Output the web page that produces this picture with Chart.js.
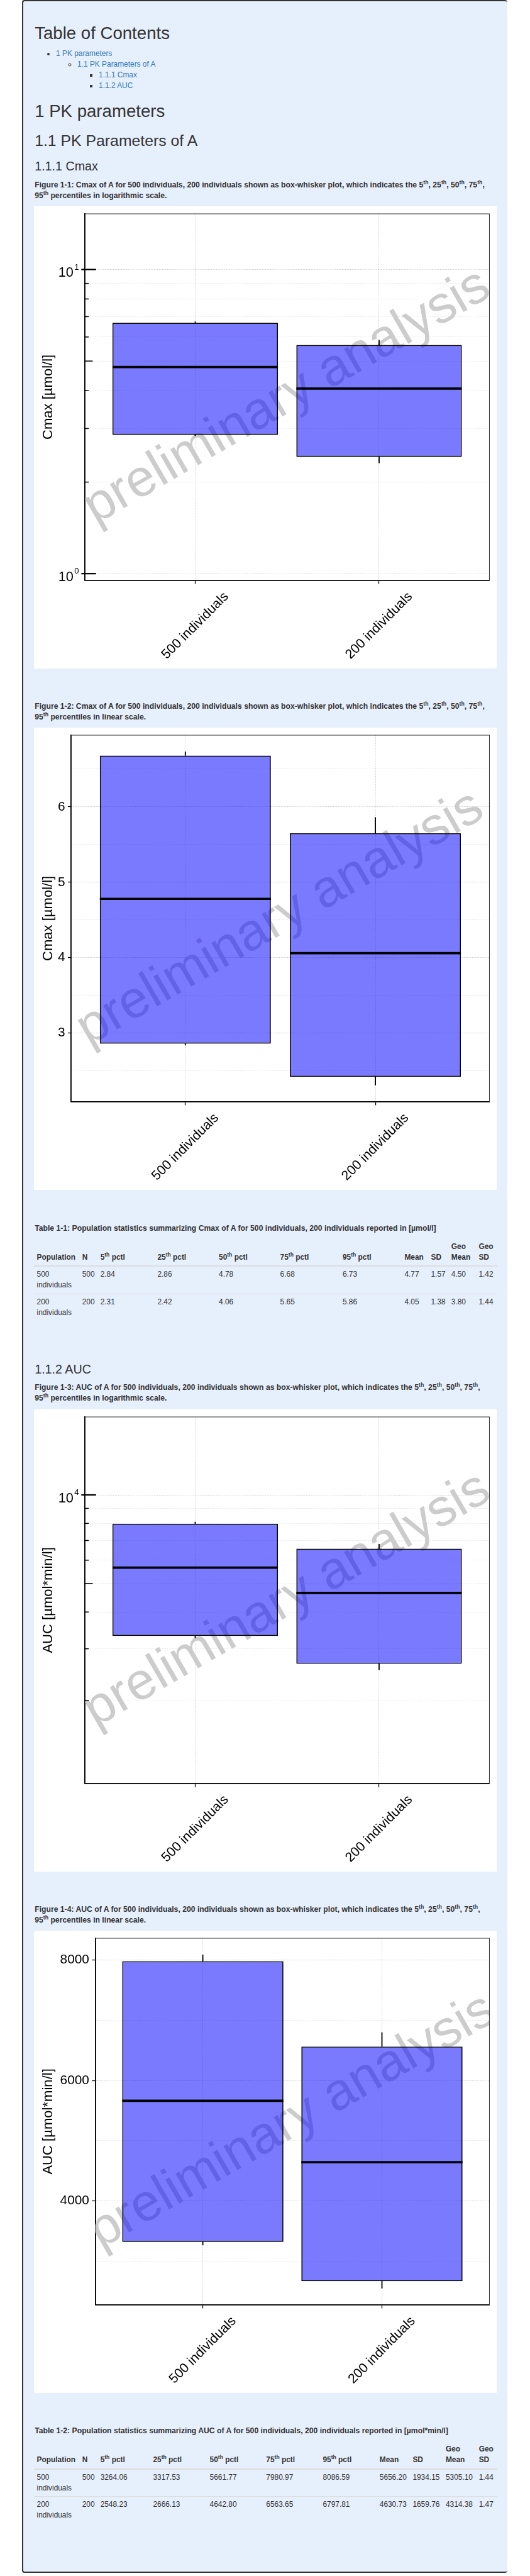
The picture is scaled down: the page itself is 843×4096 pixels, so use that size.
<!DOCTYPE html>
<html>
<head>
<meta charset="utf-8">
<title>PK parameters</title>
<script src="https://cdn.jsdelivr.net/npm/chart.js@4.4.1/dist/chart.umd.min.js"></script>
<style>
  html, body { margin: 0; padding: 0; background: #fff; }
  body { position: relative; width: 843px; height: 4096px; overflow: hidden;
         font-family: 'Liberation Sans', Arial, Helvetica, sans-serif; color: #333; }
  .frame { position: absolute; left: 35px; top: 0; width: 772px; height: 4091px; box-sizing: border-box;
           background: #e6effc; border: 2px solid #333; border-right: 0; border-radius: 4px; }
  .blk { position: absolute; left: 55.2px; margin: 0; white-space: nowrap; font-weight: 400; }
  h1.blk { font-size: 27.6px; line-height: 30.4px; }
  h2.blk { font-size: 24.8px; line-height: 27.3px; }
  h3.blk { font-size: 19.7px; line-height: 21.7px; }
  .cap { font-size: 12.2px; line-height: 17px; font-weight: 700; }
  sup { font-size: 72%; line-height: 0; }
  ul.toc { position: absolute; left: 0; top: 76.5px; margin: 0; padding-left: 89.1px;
           font-size: 11.9px; line-height: 17px; }
  ul.toc ul { margin: 0; padding-left: 34px; }
  ul.toc a { color: #337ab7; text-decoration: none; }
  .cbox { position: absolute; left: 54.3px; width: 736px; height: 735px; background: #fff; }
  .cbox canvas { display: block; }
  table.stats { position: absolute; left: 54.3px; width: 736.4px; table-layout: fixed;
                border-collapse: collapse; font-size: 11.9px; line-height: 17px; }
  table.stats th, table.stats td { padding: 4.25px; text-align: left; }
  table.stats th { vertical-align: bottom; border-bottom: 2px solid #ddd; font-weight: 700; }
  table.stats td { vertical-align: top; border-top: 1px solid #ddd; }
  table.stats td.num { white-space: nowrap; }
</style>
</head>
<body>
<div class="frame"></div>

<h1 class="blk" style="top:38px">Table of Contents</h1>
<ul class="toc">
  <li><a href="#pk">1 PK parameters</a>
    <ul>
      <li><a href="#pka">1.1 PK Parameters of A</a>
        <ul>
          <li><a href="#cmax">1.1.1 Cmax</a></li>
          <li><a href="#auc">1.1.2 AUC</a></li>
        </ul>
      </li>
    </ul>
  </li>
</ul>

<h1 class="blk" id="pk" style="top:162px">1 PK parameters</h1>
<h2 class="blk" id="pka" style="top:210.4px">1.1 PK Parameters of A</h2>
<h3 class="blk" id="cmax" style="top:254px">1.1.1 Cmax</h3>

<div class="blk cap" style="top:285.9px">Figure 1-1: Cmax of A for 500 individuals, 200 individuals shown as box-whisker plot, which indicates the 5<sup>th</sup>, 25<sup>th</sup>, 50<sup>th</sup>, 75<sup>th</sup>,<br>95<sup>th</sup> percentiles in logarithmic scale.</div>
<div class="cbox" style="top:327.7px"><canvas id="cmaxLog" width="736" height="735"></canvas></div>

<div class="blk cap" style="top:1115px">Figure 1-2: Cmax of A for 500 individuals, 200 individuals shown as box-whisker plot, which indicates the 5<sup>th</sup>, 25<sup>th</sup>, 50<sup>th</sup>, 75<sup>th</sup>,<br>95<sup>th</sup> percentiles in linear scale.</div>
<div class="cbox" style="top:1156.9px"><canvas id="cmaxLin" width="736" height="735"></canvas></div>

<div class="blk cap" style="top:1945.1px">Table 1-1: Population statistics summarizing Cmax of A for 500 individuals, 200 individuals reported in [µmol/l]</div>
<table class="stats" id="tabCmax" style="top:1969.7px"></table>

<h3 class="blk" id="auc" style="top:2166.5px">1.1.2 AUC</h3>
<div class="blk cap" style="top:2198.1px">Figure 1-3: AUC of A for 500 individuals, 200 individuals shown as box-whisker plot, which indicates the 5<sup>th</sup>, 25<sup>th</sup>, 50<sup>th</sup>, 75<sup>th</sup>,<br>95<sup>th</sup> percentiles in logarithmic scale.</div>
<div class="cbox" style="top:2240.5px"><canvas id="aucLog" width="736" height="735"></canvas></div>

<div class="blk cap" style="top:3028.4px">Figure 1-4: AUC of A for 500 individuals, 200 individuals shown as box-whisker plot, which indicates the 5<sup>th</sup>, 25<sup>th</sup>, 50<sup>th</sup>, 75<sup>th</sup>,<br>95<sup>th</sup> percentiles in linear scale.</div>
<div class="cbox" style="top:3070.4px"><canvas id="aucLin" width="736" height="735"></canvas></div>

<div class="blk cap" style="top:3857.3px">Table 1-2: Population statistics summarizing AUC of A for 500 individuals, 200 individuals reported in [µmol*min/l]</div>
<table class="stats" id="tabAuc" style="top:3882.1px"></table>

<script>
// populations
const groups = ['500 individuals', '200 individuals'];
const nIndiv = [500, 200];

// Cmax [µmol/l]
const cmaxP5 = [2.84, 2.31];
const cmaxP25 = [2.86, 2.42];
const cmaxP50 = [4.78, 4.06];
const cmaxP75 = [6.68, 5.65];
const cmaxP95 = [6.73, 5.86];
const cmaxMean = [4.77, 4.05];
const cmaxSD = [1.57, 1.38];
const cmaxGeoMean = [4.50, 3.80];
const cmaxGeoSD = [1.42, 1.44];

// AUC [µmol*min/l]
const aucP5 = [3264.06, 2548.23];
const aucP25 = [3317.53, 2666.13];
const aucP50 = [5661.77, 4642.80];
const aucP75 = [7980.97, 6563.65];
const aucP95 = [8086.59, 6797.81];
const aucMean = [5656.20, 4630.73];
const aucSD = [1934.15, 1659.76];
const aucGeoMean = [5305.10, 4314.38];
const aucGeoSD = [1.44, 1.47];

// axis ticks
const cmaxLogTicks = [1, 2, 3, 4, 5, 6, 7, 8, 9, 10];
const cmaxLogMajor = [1, 10];
const cmaxLogMid = [5];
const cmaxLogRange = [0.95, 15.25];
const cmaxLinTicks = [3, 4, 5, 6];
const cmaxLinMinor = [2.5, 3.5, 4.5, 5.5, 6.5];

const aucLogTicks = [2000, 3000, 4000, 5000, 6000, 7000, 8000, 9000, 10000];
const aucLogMajor = [10000];
const aucLogMid = [5000];
const aucLogRange = [1045, 18420];
const aucLinTicks = [4000, 6000, 8000];
const aucLinMinor = [3000, 5000, 7000];

const S = 0.849; // reference -> window
const FONT = "'Liberation Sans', Arial, Helvetica, sans-serif";
Chart.defaults.font.family = FONT;
Chart.defaults.color = '#000';

const GRID_MAJOR = 'rgba(0,0,0,0.28)';
const GRID_MINOR = 'rgba(0,0,0,0.14)';
const GRID_DASH = [1, 1.6];

// ggplot style range: data span plus 5% on each side
function linRange(lo, hi) {
  const a = Math.min(...lo), b = Math.max(...hi);
  const pad = (b - a) * 0.05;
  return [a - pad, b + pad];
}

// watermark, medians, log ticks, rotated labels, axis title
function decor(o) {
  return {
    id: 'decor',
    beforeDatasetsDraw(chart) {
      const { ctx, chartArea: a } = chart;
      ctx.save();
      ctx.beginPath();
      ctx.rect(a.left, a.top, a.right - a.left, a.bottom - a.top);
      ctx.clip();
      ctx.translate((a.left + a.right) / 2, (a.top + a.bottom) / 2);
      ctx.rotate(-30 * Math.PI / 180);
      ctx.font = (98 * S) + 'px ' + FONT;
      ctx.fillStyle = '#cccccc';
      ctx.textAlign = 'center';
      ctx.textBaseline = 'middle';
      ctx.fillText('preliminary analysis', 0, 0);
      ctx.restore();
    },
    afterDatasetsDraw(chart) {
      const { ctx } = chart;
      const y = chart.scales.y;
      const meta = chart.getDatasetMeta(0);
      ctx.save();
      ctx.strokeStyle = '#000';
      ctx.lineWidth = 4.3 * S;
      meta.data.forEach((bar, i) => {
        const py = y.getPixelForValue(o.p50[i]);
        ctx.beginPath();
        ctx.moveTo(bar.x - bar.width / 2, py);
        ctx.lineTo(bar.x + bar.width / 2, py);
        ctx.stroke();
      });
      ctx.restore();
    },
    afterDraw(chart) {
      const { ctx, chartArea: a } = chart;
      const x = chart.scales.x, y = chart.scales.y;
      ctx.save();
      // thin panel border top / right
      ctx.strokeStyle = '#333';
      ctx.lineWidth = 1.2 * S;
      ctx.beginPath();
      ctx.moveTo(a.left, a.top);
      ctx.lineTo(a.right, a.top);
      ctx.lineTo(a.right, a.bottom);
      ctx.stroke();

      ctx.fillStyle = '#000';
      if (o.log) {
        ctx.strokeStyle = '#000';
        o.grid.forEach(v => {
          const py = y.getPixelForValue(v);
          const major = o.major.includes(v);
          const inner = (major ? 21 : o.mid.includes(v) ? 14.7 : 7.3) * S;
          const outer = major ? 6.7 * S : 0;
          ctx.lineWidth = (major ? 2.6 : 1.8) * S;
          ctx.beginPath();
          ctx.moveTo(a.left - outer, py);
          ctx.lineTo(a.left + inner, py);
          ctx.stroke();
        });
        o.major.forEach(v => {
          const py = y.getPixelForValue(v);
          const exp = String(Math.round(Math.log10(v)));
          ctx.textBaseline = 'alphabetic';
          ctx.font = (15.4 * S) + 'px ' + FONT;
          const ew = ctx.measureText(exp).width;
          const supX = a.left - 11.3 * S - ew;
          ctx.textAlign = 'left';
          ctx.fillText(exp, supX, py);
          ctx.font = (25.6 * S) + 'px ' + FONT;
          ctx.textAlign = 'right';
          ctx.fillText('10', supX - 1.5 * S, py + 13.8 * S);
        });
      }

      // category labels, 45 degrees, centred under the tick
      ctx.font = (25 * S) + 'px ' + FONT;
      ctx.textAlign = 'center';
      ctx.textBaseline = 'middle';
      groups.forEach((g, i) => {
        ctx.save();
        ctx.translate(x.getPixelForValue(i + 1), a.bottom + 85 * S);
        ctx.rotate(-Math.PI / 4);
        ctx.fillText(g, 0, 0);
        ctx.restore();
      });

      // y axis title
      ctx.save();
      ctx.translate(27 * S, (a.top + a.bottom) / 2);
      ctx.rotate(-Math.PI / 2);
      ctx.font = (26 * S) + 'px ' + FONT;
      ctx.fillText(o.title, 0, 0);
      ctx.restore();
      ctx.restore();
    }
  };
}

function boxPlot(id, o) {
  const isMajor = v => o.major.includes(v);
  const pairs = (lo, hi) => groups.map((g, i) => ({ x: i + 1, y: [lo[i], hi[i]] }));
  const whisker = { backgroundColor: '#000', borderWidth: 0, barThickness: 1.4 * S, grouped: false, order: 2 };

  new Chart(document.getElementById(id), {
    type: 'bar',
    data: {
      datasets: [
        {
          data: pairs(o.p25, o.p75),
          backgroundColor: 'rgba(0,0,255,0.52)',
          borderColor: '#000',
          borderWidth: 2 * S,
          borderSkipped: false,
          barPercentage: 0.9,
          categoryPercentage: 1,
          grouped: false,
          order: 1
        },
        Object.assign({ data: pairs(o.p5, o.p25) }, whisker),
        Object.assign({ data: pairs(o.p75, o.p95) }, whisker)
      ]
    },
    options: {
      responsive: false,
      animation: false,
      events: [],
      layout: { padding: { top: 14 * S, right: 13.6 * S, left: 0, bottom: 0 } },
      plugins: { legend: { display: false }, tooltip: { enabled: false } },
      scales: {
        x: {
          type: 'linear',
          min: 0.4,
          max: 2.6,
          bounds: 'data',
          offset: false,
          afterBuildTicks: s => { s.ticks = groups.map((g, i) => ({ value: i + 1 })); },
          afterFit: s => { s.height = 165 * S; s.paddingLeft = 0; s.paddingRight = 0; },
          ticks: { display: false },
          grid: { offset: false, color: GRID_MAJOR, lineWidth: 0.85, tickLength: 6.5 * S, tickWidth: 1.5 * S, tickColor: '#000' },
          border: { color: '#000', width: 2.2 * S, dash: GRID_DASH }
        },
        y: {
          type: o.log ? 'logarithmic' : 'linear',
          min: o.range[0],
          max: o.range[1],
          bounds: 'data',
          beginAtZero: false,
          afterBuildTicks: s => { s.ticks = o.grid.map(v => ({ value: v })); },
          afterFit: s => { s.width = o.yWidth; s.paddingTop = 0; s.paddingBottom = 0; },
          ticks: o.log ? { display: false } : {
            autoSkip: false,
            font: { size: 24.5 * S },
            color: '#000',
            padding: 5 * S,
            callback: v => isMajor(v) ? String(v) : ''
          },
          grid: {
            color: c => (c.tick && isMajor(c.tick.value)) ? GRID_MAJOR : GRID_MINOR,
            lineWidth: 0.85,
            drawTicks: !o.log,
            tickLength: 6.5 * S,
            tickWidth: 1.5 * S,
            tickColor: c => (c.tick && isMajor(c.tick.value)) ? '#000' : 'rgba(0,0,0,0)'
          },
          border: { color: '#000', width: 2.2 * S, dash: GRID_DASH }
        }
      }
    },
    plugins: [decor(o)]
  });
}

boxPlot('cmaxLog', {
  log: true, p5: cmaxP5, p25: cmaxP25, p50: cmaxP50, p75: cmaxP75, p95: cmaxP95,
  range: cmaxLogRange, grid: cmaxLogTicks, major: cmaxLogMajor, mid: cmaxLogMid,
  yWidth: 95.4 * S, title: 'Cmax [µmol/l]'
});
boxPlot('cmaxLin', {
  log: false, p5: cmaxP5, p25: cmaxP25, p50: cmaxP50, p75: cmaxP75, p95: cmaxP95,
  range: linRange(cmaxP5, cmaxP95), grid: cmaxLinMinor.concat(cmaxLinTicks).sort((a, b) => a - b),
  major: cmaxLinTicks, yWidth: 70 * S, title: 'Cmax [µmol/l]'
});
boxPlot('aucLog', {
  log: true, p5: aucP5, p25: aucP25, p50: aucP50, p75: aucP75, p95: aucP95,
  range: aucLogRange, grid: aucLogTicks, major: aucLogMajor, mid: aucLogMid,
  yWidth: 95.4 * S, title: 'AUC [µmol*min/l]'
});
boxPlot('aucLin', {
  log: false, p5: aucP5, p25: aucP25, p50: aucP50, p75: aucP75, p95: aucP95,
  range: linRange(aucP5, aucP95), grid: aucLinMinor.concat(aucLinTicks).sort((a, b) => a - b),
  major: aucLinTicks, yWidth: 115 * S, title: 'AUC [µmol*min/l]'
});

// summary tables
const headers = ['Population', 'N', '5<sup>th</sup> pctl', '25<sup>th</sup> pctl', '50<sup>th</sup> pctl',
  '75<sup>th</sup> pctl', '95<sup>th</sup> pctl', 'Mean', 'SD', 'Geo Mean', 'Geo SD'];

function fillTable(id, colW, cols) {
  const cg = '<colgroup>' + colW.map(w => '<col style="width:' + w + 'px">').join('') + '</colgroup>';
  const head = '<thead><tr>' + headers.map(h => '<th>' + h + '</th>').join('') + '</tr></thead>';
  const body = '<tbody>' + groups.map((g, i) =>
    '<tr><td>' + g + '</td><td class="num">' + nIndiv[i] + '</td>' +
    cols.map(c => '<td class="num">' + c[i].toFixed(2) + '</td>').join('') + '</tr>').join('') + '</tbody>';
  document.getElementById(id).innerHTML = cg + head + body;
}

fillTable('tabCmax', [72.2, 28.9, 90.8, 97.6, 97.6, 99.3, 98.5, 42.1, 32.3, 43.6, 33.6],
  [cmaxP5, cmaxP25, cmaxP50, cmaxP75, cmaxP95, cmaxMean, cmaxSD, cmaxGeoMean, cmaxGeoSD]);
fillTable('tabAuc', [72.2, 28.9, 83.8, 90.2, 89.7, 90.2, 90.3, 52.6, 52.6, 52.7, 33.2],
  [aucP5, aucP25, aucP50, aucP75, aucP95, aucMean, aucSD, aucGeoMean, aucGeoSD]);
</script>
</body>
</html>
